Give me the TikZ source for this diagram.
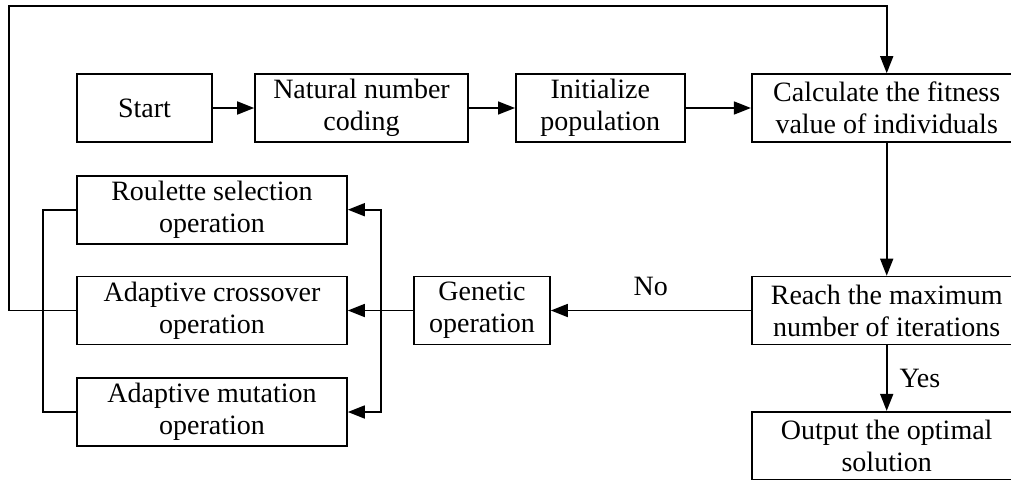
\documentclass[tikz,border=0pt]{standalone}
\usepackage{fontspec}
\setmainfont{Liberation Serif}
\usetikzlibrary{arrows.meta}
\begin{document}
\begin{tikzpicture}[x=1pt,y=-1pt,
  box/.style={draw,line width=1.6pt,rectangle,minimum height=68pt,inner sep=0pt,align=center,
    font=\fontsize{28}{32}\selectfont},
  lbl/.style={inner sep=0pt,font=\fontsize{28}{32}\selectfont},
  arr/.style={line width=1.6pt,-{Triangle[length=17pt,width=13pt]}},
  ln/.style={line width=1.6pt}]
\useasboundingbox (0,0) rectangle (1011,479);
\node[box,minimum width=135pt] (start) at (144.5,108) {Start};
\node[box,minimum width=213pt] (nat) at (361.5,108) {Natural number\\coding};
\node[box,minimum width=169pt] (init) at (600.3,108) {Initialize\\population};
\node[box,minimum width=270pt] (calc) at (886.7,108) {Calculate the fitness\\value of individuals};
\node[box,minimum width=270pt] (roul) at (212,209.7) {Roulette selection\\operation};
\node[box,minimum width=270pt] (cross) at (212,310.5) {Adaptive crossover\\operation};
\node[box,minimum width=270pt] (mut) at (212,412) {Adaptive mutation\\operation};
\node[box,minimum width=136pt] (gen) at (482,310.5) {Genetic\\operation};
\node[box,minimum width=270pt] (reach) at (886.7,310.5) {Reach the maximum\\number of iterations};
\node[box,minimum width=270pt] (out) at (886.7,445.7) {Output the optimal\\solution};
\coordinate (jr) at (381,310.5);
\coordinate (jl) at (43,310.5);
\coordinate (lp) at (9,6);
\draw[arr] (start) -- (nat);
\draw[arr] (nat) -- (init);
\draw[arr] (init) -- (calc);
\draw[arr] (calc) -- (reach);
\draw[arr] (reach) -- (gen) node[lbl,pos=0.5,yshift=24.5pt] (no) {No};
\draw[arr] (gen) -- (cross);
\draw[arr] (jr) |- (roul.east);
\draw[arr] (jr) |- (mut.east);
\draw[ln] (roul.west) -| (jl) |- (mut.west);
\draw[arr] (cross.west) -| (lp) -| (calc.north);
\draw[arr] (reach) -- (out) node[lbl,pos=0.5,anchor=west,xshift=12pt] (yes) {Yes};
\end{tikzpicture}
\end{document}
